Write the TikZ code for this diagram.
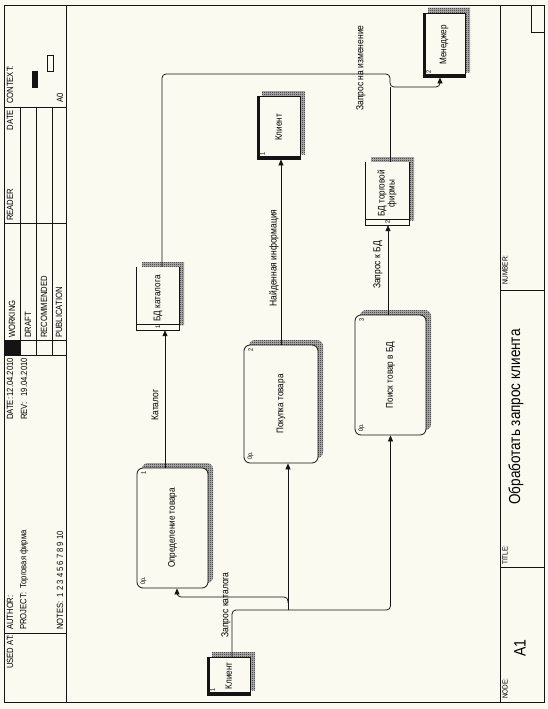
\documentclass[tikz,border=0pt]{standalone}
\usepackage{fontspec}
\setmainfont{Liberation Sans}[FakeStretch=0.85]
\usetikzlibrary{calc,arrows.meta,positioning,patterns.meta,shadows}
\definecolor{paper}{HTML}{FAFAF0}
\definecolor{ink}{HTML}{141414}
\tikzdeclarepattern{
  name=dither,
  type=uncolored,
  bottom left={(0pt,0pt)},
  top right={(2pt,2pt)},
  tile size={(2pt,2pt)},
  code={
    \pgfpathrectangle{\pgfpoint{0pt}{0pt}}{\pgfpoint{1pt}{1pt}}
    \pgfpathrectangle{\pgfpoint{1pt}{1pt}}{\pgfpoint{1pt}{1pt}}
    \pgfusepath{fill}
  }
}
\tikzset{
  ar/.style={-{Triangle[length=6pt,width=5pt]},line width=0.75pt,ink,rounded corners=4pt},
  ln/.style={line width=0.75pt,ink,rounded corners=4pt},
  frm/.style={line width=0.8pt,ink},
  hatch/.style={general shadow={shadow xshift=5pt,shadow yshift=5pt,fill=ink!30},
    general shadow={shadow xshift=5pt,shadow yshift=5pt,pattern=dither,pattern color=ink}},
  proc/.style={draw=ink,line width=0.8pt,rounded corners=6pt,fill=paper,hatch,inner sep=0pt,font=\fontsize{9.6}{10}\selectfont},
  store/.style={fill=paper,hatch,inner sep=0pt,font=\fontsize{9.6}{10}\selectfont},
  ext/.style={draw=ink,line width=0.8pt,fill=paper,hatch,inner sep=0pt,font=\fontsize{9.6}{10}\selectfont},
  thk/.style={line width=3pt,ink},
  lbl/.style={rotate=90,inner sep=0pt,font=\fontsize{10}{11}\selectfont},
  hdr/.style={rotate=90,inner sep=0pt,font=\fontsize{9}{10}\selectfont},
  sml/.style={rotate=90,inner sep=0pt,font=\fontsize{7.5}{8}\selectfont},
  tag/.style={rotate=90,inner sep=0pt,font=\fontsize{6.5}{7}\selectfont}
}
\begin{document}
\begin{tikzpicture}[x=1pt,y=-1pt]
\useasboundingbox (0,0) rectangle (548,709);
\fill[paper] (0,0) rectangle (548,709);
\draw[frm] (4,5) rectangle (544,702);
\draw[frm] (66,5) -- (66,702) (500,5) -- (500,702);
\draw[frm] (4,107) -- (66,107) (4,223) -- (66,223) (4,340) -- (66,340) (4,355) -- (66,355) (4,633) -- (66,633);
\draw[frm] (20,107) -- (20,355) (36,107) -- (36,355) (52,107) -- (52,355);
\fill[ink] (4,340) rectangle (20,355);
\draw[frm] (500,290) -- (544,290) (500,567) -- (544,567) (531,5) -- (531,32) -- (544,32);
\fill[ink] (32,71) rectangle (38,88);
\draw[frm] (47,55) rectangle (53,71);

\node[hdr,anchor=west] (hctx) at (10,104) {CONTEXT:};
\node[hdr] (ha0) at (60,98) {A0};
\node[hdr,anchor=east] (hdate) at (10,110) {DATE};
\node[hdr,anchor=west] (hread) at (10,221) {READER};
\node[hdr,anchor=west] (hwork) at (12,338) {WORKING};
\node[hdr,anchor=west] (hdraft) at (28,338) {DRAFT};
\node[hdr,anchor=west] (hrec) at (44,338) {RECOMMENDED};
\node[hdr,anchor=west] (hpub) at (59,338) {PUBLICATION};
\node[hdr,anchor=west] (hd1) at (10,420) {DATE:};
\node[hdr,anchor=east] (hd2) at (10,358) {12.04.2010};
\node[hdr,anchor=west] (hr1) at (24,420) {REV:};
\node[hdr,anchor=east] (hr2) at (24,358) {19.04.2010};
\node[hdr,anchor=west] (hauth) at (10,630) {AUTHOR:};
\node[hdr,anchor=west] (hproj) at (24,630) {PROJECT:\ \ Торговая фирма};
\node[hdr,anchor=west] (hnote) at (60,630) {NOTES:\ \ 1 2 3 4 5 6 7 8 9 10};
\node[hdr,anchor=west] (hused) at (10,669) {USED AT:};
\node[sml,anchor=west] (hnum) at (505,285) {NUMBER:};
\node[sml,anchor=west] (htit) at (505,565) {TITLE:};
\node[sml,anchor=west] (hnode) at (505,699) {NODE:};
\node[rotate=90,font=\fontsize{15.9}{17}\selectfont] (title) at (516,417) {Обработать запрос клиента};
\node[rotate=90,font=\fontsize{16.5}{18}\selectfont] (nodeid) at (520,648) {A1};

\node[proc,minimum width=71pt,minimum height=120pt] (p1) at (172.5,528) {\rotatebox{90}{Определение товара}};
\node[proc,minimum width=74pt,minimum height=118pt] (p2) at (281,404) {\rotatebox{90}{Покупка товара}};
\node[proc,minimum width=71pt,minimum height=120pt] (p3) at (390.5,375) {\rotatebox{90}{Поиск товар в БД}};
\foreach \p/\n in {p1/1,p2/2,p3/3}{
  \node[tag] at ([shift={(7,5)}]\p.north west) {\n};
  \node[tag] at ([shift={(7,-8)}]\p.south west) {0р.};
}

\node[store,minimum width=42pt,minimum height=63pt] (st1) at (158,298.5) {\rotatebox{90}{БД каталога}};
\node[store,minimum width=43pt,minimum height=63pt] (st2) at (387.5,193.5) {\rotatebox{90}{\begin{tabular}{@{}c@{}}БД торговой\\фирмы\end{tabular}}};
\foreach \s/\n in {st1/1,st2/2}{
  \draw[frm] (\s.north west) -- (\s.south west) -- (\s.south east) -- (\s.north east);
  \draw[frm] ([yshift=6pt]\s.south west) -- ([yshift=6pt]\s.south east);
  \node[tag] at ([yshift=3pt]\s.south) {\n};
}

\node[ext,minimum width=43pt,minimum height=38pt] (e1) at (228.5,676) {\rotatebox{90}{Клиент}};
\node[ext,minimum width=43pt,minimum height=63pt] (e2) at (278.5,127.5) {\rotatebox{90}{Клиент}};
\node[ext,minimum width=42pt,minimum height=64pt] (e3) at (444,45) {\rotatebox{90}{Менеджер}};
\foreach \e/\n in {e1/1,e2/1,e3/2}{
  \draw[thk] ([xshift=1.5pt]\e.north west) |- ([yshift=1.5pt]\e.south east);
  \node[tag,fill=paper,inner sep=0.3pt] at ([shift={(6,-5)}]\e.south west) {\n};
}

\coordinate (jb) at (288,610);
\coordinate (jc) at (288,597);
\coordinate (jt) at (390,87);
\draw[ar] ([xshift=3.5pt]e1.north) |- (jb) -| (p3.south);
\draw[ar] (jb) -- (jb |- p2.south);
\draw[ar] ([yshift=-6pt]jc) -- (jc) -| ([xshift=4.5pt]p1.south);
\draw[ar] ([xshift=-7.5pt]p1.north) -- ([xshift=-7.5pt]p1.north |- st1.south);
\draw[ar] (p2.north) -- (p2.north |- e2.south);
\draw[ar] ([xshift=-2.5pt]p3.north) -- ([xshift=-2.5pt]p3.north |- st2.south);
\draw[ar] ([xshift=4pt]st1.north) |- ([yshift=13pt]jt) -- (jt) -| ([xshift=-4pt]e3.south);
\draw[ln] ([xshift=2.5pt]st2.north) -- (jt);

\node[lbl] (lcat) at (155,405) {Каталог};
\node[lbl] (lfound) at (274,258) {Найденная информация};
\node[lbl] (ldb) at (378,265) {Запрос к БД};
\node[lbl] (lchg) at (361,68) {Запрос на изменение};
\node[lbl] (lreq) at (226,605) {Запрос каталога};
\end{tikzpicture}
\end{document}
